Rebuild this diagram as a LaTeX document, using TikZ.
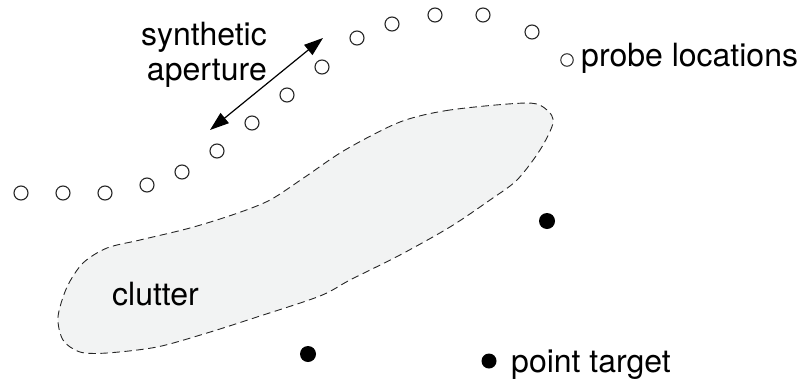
\documentclass[tikz,border=0pt]{standalone}
\usepackage{fontspec}
\setmainfont{TeX Gyre Heros}
\usetikzlibrary{arrows.meta}
\definecolor{clutterfill}{HTML}{F2F3F3}
\tikzset{
  probe/.style={circle, draw=black!85, line width=1.1pt, minimum size=14pt, inner sep=0pt, fill=white},
  legprobe/.style={circle, draw=black!85, line width=1.0pt, minimum size=12.5pt, inner sep=0pt},
  target/.style={circle, fill=black, minimum size=16pt, inner sep=0pt},
  legtarget/.style={circle, fill=black, minimum size=15pt, inner sep=0pt},
  lbl/.style={font=\fontsize{32}{35}\selectfont, inner sep=0pt},
  boundary/.style={draw=black!85, line width=0.9pt, dash pattern=on 7.5pt off 4.5pt, fill=clutterfill},
  dbl/.style={line width=1.2pt, {Triangle[length=19pt,width=13pt]}-{Triangle[length=19pt,width=13pt]}}
}
\begin{document}
\begin{tikzpicture}[x=1pt,y=-1pt]
\useasboundingbox (0,0) rectangle (802,383);
% clutter region
\path[boundary] plot[smooth cycle, tension=0.5] coordinates {
 (527,103) (450,110) (400,122) (345,150) (305,177) (270,200) (235,214)
 (190,228) (140,240) (107,248) (83,263) (67,287) (58,317) (63,340)
 (80,352) (107,353) (157,347) (207,333) (257,317) (320,296) (350,280)
 (400,255) (450,227) (490,200) (517,180) (540,150) (553,123) (547,110)};
\node[lbl, anchor=base west] (clut) at (112,305) {clutter};
% probe locations
\node[probe] (p1) at (21,193) {};
\node[probe] (p2) at (63,193) {};
\node[probe] (p3) at (105,193) {};
\node[probe] (p4) at (147,185) {};
\node[probe] (p5) at (182,172) {};
\node[probe] (p6) at (217,151) {};
\node[probe] (p7) at (252,123) {};
\node[probe] (p8) at (287,95) {};
\node[probe] (p9) at (322,67) {};
\node[probe] (p10) at (357,38) {};
\node[probe] (p11) at (392,24) {};
\node[probe] (p12) at (435,15) {};
\node[probe] (p13) at (483,15) {};
\node[probe] (p14) at (532,32) {};
% synthetic aperture arrow
\coordinate (a1) at (210,130);
\coordinate (a2) at (323,38);
\draw[dbl] (a1) -- (a2);
\node[lbl, anchor=base east] (syn1) at (267,45) {synthetic};
\node[lbl, anchor=base east] (syn2) at (267,80) {aperture};
% legend probe
\node[legprobe] (lp) at (567,60) {};
\node[lbl, anchor=base west] (lpt) at (581,66) {probe locations};
% point targets
\node[target] (t1) at (547,221) {};
\node[target] (t2) at (308,354) {};
\node[legtarget] (lt) at (489,361) {};
\node[lbl, anchor=base west] (ltt) at (511,372) {point target};
\end{tikzpicture}
\end{document}
